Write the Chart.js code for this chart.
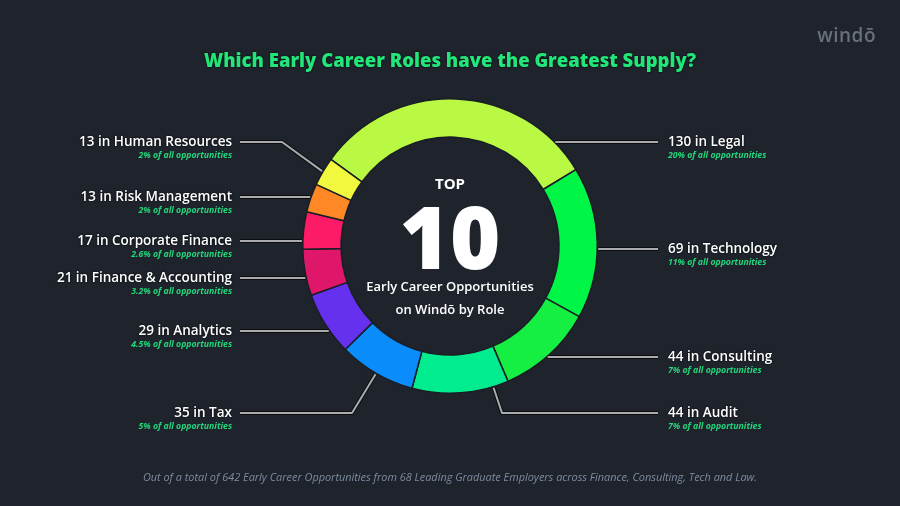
<!DOCTYPE html>
<html>
<head>
<meta charset="utf-8">
<script src="https://cdn.jsdelivr.net/npm/chart.js@4"></script>
<style>
  html, body { margin: 0; padding: 0; background: #1e232c; }
  #wrap { position: relative; width: 900px; height: 506px; overflow: hidden; font-family: "Open Sans", sans-serif; }
  canvas { position: absolute; left: 0; top: 0; }
  .title { position: absolute; left: 0; width: 900px; top: 47px; text-align: center; color: #22e67a; font-size: 18.5px; font-weight: 800; text-shadow: 0 0 2px #000; }
  .logo { position: absolute; right: 24px; top: 22px; color: #6a707b; font-size: 19px; font-weight: 600; letter-spacing: 0.5px; }
  .foot { position: absolute; left: 0; width: 900px; top: 469px; text-align: center; color: #7d8ca0; font-size: 10.9px; font-style: italic; }
  .lbl { position: absolute; white-space: nowrap; }
  .lbl .main { color: #fff; font-size: 13.5px; font-weight: 600; line-height: 17px; text-shadow: 0 0 2px #000; }
  .lbl .sub { color: #22d67a; font-size: 8.7px; font-weight: 700; font-style: italic; line-height: 10px; }
  .lbl.L { text-align: right; }
  .center { position: absolute; left: 300px; width: 300px; text-align: center; color: #fff; }
</style>
</head>
<body>
<div id="wrap">
  <canvas id="ring" width="900" height="506"></canvas>
  <div class="title">Which Early Career Roles have the Greatest Supply?</div>
  <div class="logo">windō</div>
  <div class="center" style="top:173px;font-size:15px;font-weight:700;">TOP</div>
  <div class="center" style="top:186px;font-size:86px;font-weight:800;line-height:100px;">10</div>
  <div class="center" style="top:277px;font-size:13px;font-weight:600;">Early Career Opportunities</div>
  <div class="center" style="top:300px;font-size:13px;font-weight:600;">on Windō by Role</div>
  <div class="foot">Out of a total of 642 Early Career Opportunities from 68 Leading Graduate Employers across Finance, Consulting, Tech and Law.</div>
</div>
<script>
// data
const roles = ["Legal", "Technology", "Consulting", "Audit", "Tax", "Analytics",
    "Finance & Accounting", "Corporate Finance", "Risk Management", "Human Resources"];
const counts = [130, 69, 44, 44, 35, 29, 21, 17, 13, 13];
const shares = ["20%", "11%", "7%", "7%", "5%", "4.5%", "3.2%", "2.6%", "2%", "2%"];
const colors = ["#b9f843", "#00f646", "#15ef42", "#00ec8e", "#0b8cfb", "#6531ee",
    "#df176a", "#fd1b68", "#ff8826", "#f1f83d"];

// callout layout (label rows + side), elbows for a few
const labelY = [142, 249, 357, 413, 413, 331, 278, 241, 197, 142];
const labelSide = ["R", "R", "R", "R", "L", "L", "L", "L", "L", "L"];
const elbows = { 3: { x: 502, along: 0.16 }, 4: { x: 352, along: 0.5 }, 9: { x: 282, along: 0.5 } };
const lineStartR = 658, lineStartL = 240;

const wrap = document.getElementById("wrap");
roles.forEach((r, i) => {
    const d = document.createElement("div");
    d.className = "lbl " + labelSide[i];
    d.innerHTML = '<div class="main">' + counts[i] + " in " + r.replace("&", "&amp;") + '</div>' +
        '<div class="sub">' + shares[i] + ' of all opportunities</div>';
    d.style.top = (labelY[i] - 9) + "px";
    if (labelSide[i] === "R") d.style.left = "668px";
    else d.style.right = (900 - 232) + "px";
    wrap.appendChild(d);
});

const leaderPlugin = {
    id: "leaders",
    afterDatasetsDraw(chart) {
        const { ctx } = chart;
        const meta = chart.getDatasetMeta(0);
        meta.data.forEach((arc, i) => {
            const cx = arc.x, cy = arc.y, R = arc.outerRadius;
            const y = labelY[i];
            const right = labelSide[i] === "R";
            const x0 = right ? lineStartR : lineStartL;
            const pts = [[x0, y]];
            const e = elbows[i];
            if (e) {
                const a = arc.startAngle + (arc.endAngle - arc.startAngle) * e.along;
                pts.push([e.x, y]);
                pts.push([cx + Math.cos(a) * (R + 1), cy + Math.sin(a) * (R + 1)]);
            } else {
                const dy = y - cy;
                const dx = Math.sqrt(Math.max(R * R - dy * dy, 0));
                pts.push([right ? cx + dx + 1 : cx - dx - 1, y]);
            }
            ctx.save();
            ctx.lineJoin = "round";
            [["#0b0d11", 4], ["#a9abad", 2]].forEach(([c, w]) => {
                ctx.strokeStyle = c;
                ctx.lineWidth = w;
                ctx.beginPath();
                pts.forEach((p, k) => k ? ctx.lineTo(p[0], p[1]) : ctx.moveTo(p[0], p[1]));
                ctx.stroke();
            });
            ctx.restore();
        });
    }
};

new Chart(document.getElementById("ring"), {
    type: "doughnut",
    data: {
        labels: roles,
        datasets: [{
            data: counts,
            backgroundColor: colors,
            borderColor: "#1a1e25",
            borderWidth: 1.5,
        }],
    },
    options: {
        responsive: false,
        animation: false,
        rotation: -54,
        cutout: "74%",
        layout: { padding: { top: 98, bottom: 112, left: 0, right: 0 } },
        plugins: {
            legend: { display: false },
            tooltip: { enabled: false },
        },
    },
    plugins: [leaderPlugin],
});
</script>
</body>
</html>
